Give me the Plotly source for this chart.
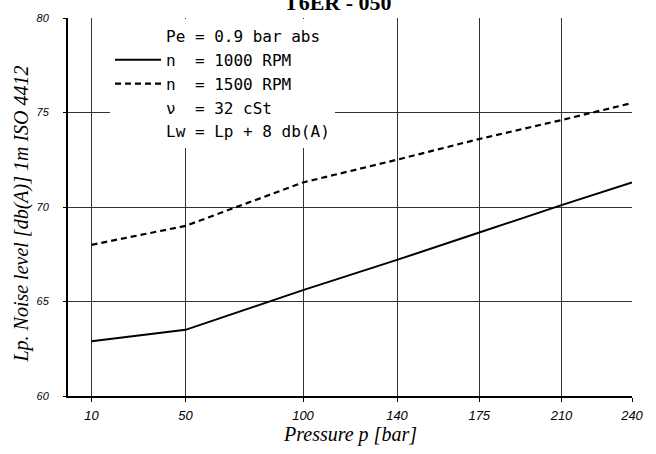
import plotly.graph_objects as go

# ---- data ----
pressure = [10, 50, 100, 140, 175, 210, 240]
noise_1000 = [62.9, 63.5, 65.6, 67.2, 68.65, 70.1, 71.3]
noise_1500 = [68.0, 69.0, 71.3, 72.5, 73.6, 74.6, 75.5]
x_ticks = [10, 50, 100, 140, 175, 210, 240]
y_ticks = [60, 65, 70, 75, 80]

title_text = "T6ER - 050"
legend_rows = ["Pe\u00a0=\u00a00.9\u00a0bar\u00a0abs",
               "n\u00a0\u00a0=\u00a01000\u00a0RPM",
               "n\u00a0\u00a0=\u00a01500\u00a0RPM",
               "\u03bd\u00a0\u00a0=\u00a032\u00a0cSt",
               "Lw\u00a0=\u00a0Lp\u00a0+\u00a08\u00a0db(A)"]

fig = go.Figure()
fig.add_trace(go.Scatter(x=[None], y=[None], mode="lines", name=legend_rows[0],
                         line=dict(color="rgba(0,0,0,0)", width=0)))
fig.add_trace(go.Scatter(x=pressure, y=noise_1000, mode="lines", name=legend_rows[1],
                         line=dict(color="black", width=2)))
fig.add_trace(go.Scatter(x=pressure, y=noise_1500, mode="lines", name=legend_rows[2],
                         line=dict(color="black", width=2.2, dash="6px,4px")))
fig.add_trace(go.Scatter(x=[None], y=[None], mode="lines", name=legend_rows[3],
                         line=dict(color="rgba(0,0,0,0)", width=0)))
fig.add_trace(go.Scatter(x=[None], y=[None], mode="lines", name=legend_rows[4],
                         line=dict(color="rgba(0,0,0,0)", width=0)))

xtickfont = dict(family="Liberation Sans", size=13, color="black", style="italic")
ytickfont = dict(family="Liberation Sans", size=11, color="black", style="italic")
titlefont = dict(family="Liberation Serif", size=20, color="black", style="italic")

fig.update_layout(
    width=656, height=454,
    margin=dict(l=68, r=24, t=13, b=58),
    paper_bgcolor="white", plot_bgcolor="white",
    showlegend=True,
    legend=dict(x=(110 - 68) / 564, y=0.997, xanchor="left", yanchor="top",
                bgcolor="white", borderwidth=0, itemwidth=46,
                font=dict(family="DejaVu Sans Mono", size=16, color="black"),
                traceorder="normal", tracegroupgap=0),
    xaxis=dict(range=[0, 240], tickvals=x_ticks, ticktext=[str(v) for v in x_ticks],
               showgrid=True, gridcolor="#333333", gridwidth=1,
               showline=True, linecolor="black", linewidth=2,
               ticks="outside", ticklen=4, tickcolor="black",
               ticklabelstandoff=2,
               tickfont=xtickfont, zeroline=False),
    yaxis=dict(range=[60, 80], tickvals=y_ticks, ticktext=[str(v) for v in y_ticks],
               showgrid=True, gridcolor="#333333", gridwidth=1,
               showline=True, linecolor="black", linewidth=2,
               ticks="outside", ticklen=3, tickcolor="black",
               ticklabelstandoff=12,
               tickfont=ytickfont, zeroline=False),
    annotations=[
        dict(text="<b>" + title_text + "</b>", xref="paper", yref="paper",
             x=(338 - 68) / 564, y=1, xanchor="center", yanchor="bottom", yshift=1,
             showarrow=False, font=dict(family="Liberation Serif", size=22, color="black")),
        dict(text="Pressure p [bar]", xref="paper", yref="paper",
             x=0.5, y=0, xanchor="center", yanchor="middle", yshift=-38,
             showarrow=False, font=titlefont),
        dict(text="Lp. Noise level [db(A)] 1m ISO 4412", xref="paper", yref="paper",
             x=0, y=0.48, xanchor="center", yanchor="middle", xshift=-46, textangle=-90,
             showarrow=False, font=titlefont),
    ],
)

fig.write_html(
    "out.html",
    config={"displayModeBar": False},
    post_script="document.body.style.margin='0px';document.documentElement.style.overflow='hidden';",
)
